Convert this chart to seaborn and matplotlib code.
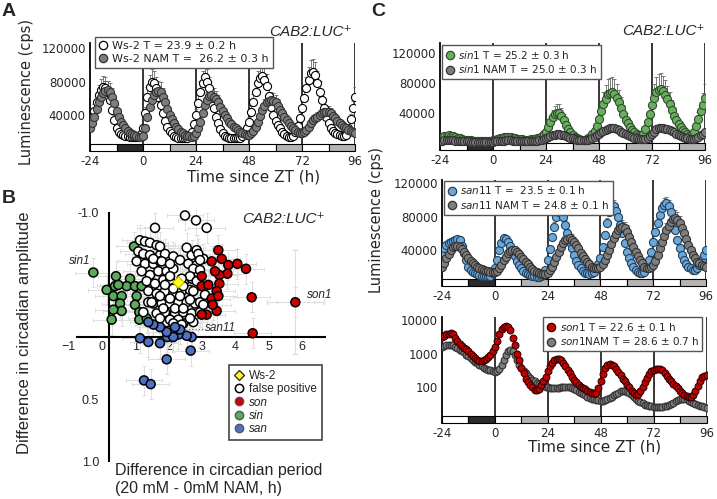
import numpy as np
import pandas as pd
import seaborn as sns
import matplotlib.pyplot as plt
import matplotlib.transforms as mtransforms
from matplotlib.patches import Rectangle
from matplotlib.lines import Line2D

sns.set_style('white')
plt.rcParams['font.family'] = ['DejaVu Sans']

# ---------------- data: luminescence traces, hourly from ZT -24 to 96 ----------------
time_h = np.arange(-24, 97, 1)
day_ticks = [-24, 0, 24, 48, 72, 96]
# 12 h light segments under each trace: L / D / L / subjective night ...
light_starts = [-24, -12, 0, 12, 24, 36, 48, 60, 72, 84]
light_schedule = ['white', '#2b2b2b', 'white', '#b4b4b4', 'white', '#b4b4b4',
                  'white', '#b4b4b4', 'white', '#b4b4b4']

ws2 = [28000, 36000, 45000, 55000, 64000, 70000, 73000, 72000, 68000, 58000, 46000, 34000,
       24000, 19500, 17000, 16000, 15000, 14500, 14000, 13500, 13500, 13500, 14000, 17000,
       25000, 42000, 62000, 74000, 80000, 78000, 72000, 62000, 52000, 42000, 33000, 26000,
       21000, 18000, 15500, 14000, 13000, 12500, 12000, 12000, 12500, 15000, 20000, 29000,
       40000, 54000, 68000, 78000, 85000, 80000, 72000, 60000, 48000, 38000, 30000, 23000,
       18000, 15500, 14000, 13000, 12500, 12000, 12000, 12500, 13000, 15000, 18000, 24000,
       32000, 43000, 55000, 67000, 78000, 84000, 87000, 82000, 75000, 63000, 50000, 40000,
       33000, 28000, 24000, 20000, 17000, 15000, 14000, 14000, 15000, 20000, 27000, 37000,
       48000, 60000, 72000, 82000, 90000, 91000, 88000, 78000, 68000, 58000, 48000, 38000,
       30000, 25000, 21000, 19000, 17000, 16000, 15000, 15000, 16000, 24000, 35000, 48000,
       62000]
ws2_nam = [25000, 31000, 38000, 47000, 55000, 61000, 66000, 69000, 70000, 67000, 62000, 54000,
           45000, 38000, 32000, 28000, 24000, 21000, 19000, 17500, 16000, 14500, 13500, 14000,
           15000, 25000, 38000, 49000, 58000, 64000, 68000, 69000, 68000, 62000, 55000, 47000,
           40000, 35000, 30000, 26000, 23000, 20000, 18000, 16500, 15000, 14500, 14000, 15500,
           18000, 24000, 32000, 42000, 52000, 58000, 63000, 63500, 62000, 59000, 55000, 50000,
           45000, 40000, 36000, 32000, 29000, 26000, 24000, 22000, 20000, 18500, 17000, 16500,
           16500, 18000, 21000, 26000, 32000, 39000, 46000, 51000, 55000, 57000, 58000, 57000,
           55000, 51000, 46000, 42000, 38000, 34000, 30000, 27000, 24000, 22000, 20000, 19000,
           18500, 19500, 22000, 26000, 31000, 34000, 36000, 38000, 40000, 42000, 43000, 44000,
           44000, 42000, 39000, 36000, 33000, 30000, 28000, 26000, 24000, 22500, 21000, 20000,
           19000]

sin1 = [6000, 7500, 9000, 9500, 10000, 9500, 9000, 8000, 7000, 6000, 5000, 4500,
        4000, 3700, 3500, 3200, 3000, 3000, 3000, 3000, 3000, 3000, 3000, 3200,
        3500, 4200, 5000, 6000, 7000, 8000, 8500, 8200, 7500, 6800, 6000, 5500,
        5000, 4700, 4500, 4500, 4500, 4700, 5000, 5500, 6000, 7200, 9000, 11500,
        15000, 21000, 28000, 34000, 38000, 40000, 40000, 36000, 30000, 24000, 19000, 14000,
        10000, 7500, 6000, 5000, 4500, 4300, 4500, 6000, 8000, 11500, 16000, 23000,
        32000, 42000, 52000, 59000, 65000, 67000, 68000, 65000, 60000, 54000, 47000, 39000,
        31000, 26000, 21000, 17000, 14000, 12000, 11000, 11000, 12000, 18000, 28000, 39000,
        50000, 60000, 68000, 71000, 72000, 69000, 64000, 58000, 52000, 44000, 36000, 30000,
        25000, 21000, 17000, 14000, 12000, 11000, 10000, 14000, 22000, 32000, 42000, 51000,
        60000]
sin1_nam = [3000, 3200, 3500, 3500, 3500, 3500, 3500, 3200, 3000, 3000, 3000, 2800,
            2500, 2200, 2000, 2000, 2000, 2000, 2000, 2000, 2000, 2000, 2000, 2000,
            2000, 2200, 2500, 2800, 3000, 3200, 3500, 3500, 3500, 3200, 3000, 3000,
            3000, 2800, 2500, 2500, 2500, 2500, 2500, 2700, 3000, 3500, 4000, 5000,
            6000, 7500, 9000, 10000, 11000, 11500, 11500, 11000, 10000, 9000, 8000, 7000,
            6000, 5200, 4500, 4200, 4000, 4000, 4000, 4500, 5000, 6500, 8000, 10000,
            12000, 14000, 16000, 17500, 19000, 19500, 20000, 19500, 18500, 17000, 15000, 13500,
            12000, 10500, 9000, 8000, 7000, 6200, 5500, 5200, 5000, 5800, 7000, 9500,
            12000, 15000, 18000, 19500, 20000, 20000, 19000, 18000, 17000, 15500, 14000, 12500,
            11000, 9500, 8000, 7000, 6000, 5500, 5000, 5300, 6000, 8000, 10000, 12500,
            15000]

san11 = [38000, 42000, 46000, 48000, 50000, 51000, 52000, 53000, 52000, 45000, 36000, 28000,
         20000, 16500, 14000, 12500, 11000, 10000, 9500, 9200, 9000, 9000, 9500, 12500,
         18000, 28000, 40000, 48000, 54000, 53000, 50000, 45000, 40000, 33000, 27000, 22000,
         18000, 15000, 13000, 11500, 10000, 9000, 8500, 8200, 8000, 8500, 10000, 16000,
         28000, 41000, 55000, 68000, 80000, 85000, 86000, 79000, 70000, 60000, 50000, 42000,
         34000, 27000, 22000, 18000, 15000, 13000, 12000, 11500, 12000, 14000, 18000, 23000,
         30000, 43000, 58000, 72000, 85000, 90000, 92000, 87000, 80000, 70000, 60000, 48000,
         38000, 30000, 24000, 19500, 16000, 13500, 12000, 12000, 14000, 20000, 28000, 38000,
         50000, 61000, 72000, 82000, 90000, 94000, 96000, 92000, 85000, 75000, 64000, 52000,
         42000, 34000, 28000, 23000, 20000, 18000, 16000, 16000, 18000, 22000, 28000, 34000,
         40000]
san11_nam = [20000, 25000, 30000, 35000, 40000, 43000, 45000, 45000, 44000, 41000, 38000, 34000,
             30000, 27000, 24000, 22000, 20000, 18500, 17000, 16000, 15000, 14500, 14000, 14000,
             14000, 15500, 18000, 22000, 28000, 32000, 36000, 38500, 40000, 39500, 38000, 35000,
             32000, 29000, 26000, 23000, 20000, 17500, 15000, 13500, 12000, 11500, 11000, 11500,
             13000, 16000, 20000, 26000, 32000, 38000, 44000, 48000, 52000, 53500, 54000, 52500,
             50000, 46000, 42000, 37000, 33000, 29000, 26000, 23000, 20000, 19000, 18000, 18500,
             20000, 23500, 28000, 34000, 40000, 47000, 54000, 59000, 64000, 66500, 68000, 66000,
             62000, 56000, 50000, 44000, 38000, 33000, 28000, 24000, 20000, 19000, 18000, 19500,
             22000, 27000, 34000, 42000, 50000, 57000, 64000, 69000, 74000, 76500, 78000, 76000,
             72000, 66000, 60000, 53000, 46000, 40000, 34000, 30000, 26000, 24000, 22000, 21000,
             20000]

son1 = [3200, 3500, 3800, 4000, 4200, 3800, 3000, 2500, 2000, 1700, 1500, 1350,
        1200, 1000, 850, 750, 650, 630, 620, 650, 700, 800, 950, 1200,
        1600, 2500, 4000, 5500, 6500, 6800, 6500, 5000, 3000, 1800, 1000, 650,
        380, 260, 180, 140, 120, 100, 85, 82, 90, 115, 150, 210,
        300, 420, 550, 640, 700, 700, 650, 540, 420, 330, 260, 210,
        170, 140, 120, 105, 95, 87, 80, 75, 70, 68, 70, 95,
        150, 250, 380, 450, 500, 480, 430, 360, 280, 230, 180, 150,
        120, 100, 80, 68, 60, 65, 80, 105, 140, 190, 250, 300,
        330, 350, 360, 350, 320, 270, 220, 180, 150, 130, 110, 95,
        80, 70, 60, 55, 50, 52, 60, 80, 110, 150, 200, 220,
        230]
son1_nam = [1600, 1700, 1800, 1900, 1900, 1800, 1600, 1450, 1300, 1200, 1100, 950,
            850, 750, 650, 580, 520, 470, 420, 390, 360, 340, 320, 300,
            280, 300, 350, 450, 650, 900, 1200, 1300, 1200, 900, 650, 480,
            380, 310, 260, 220, 190, 170, 150, 135, 125, 118, 110, 105,
            100, 97, 95, 95, 95, 97, 100, 103, 105, 103, 100, 95,
            90, 82, 75, 68, 62, 57, 52, 49, 46, 44, 42, 41,
            40, 40, 42, 45, 48, 53, 58, 64, 70, 76, 80, 78,
            75, 68, 60, 52, 45, 40, 36, 33, 30, 29, 28, 27,
            26, 25, 25, 25, 26, 27, 28, 30, 32, 35, 38, 41,
            44, 46, 46, 44, 40, 37, 34, 32, 30, 28, 27, 25,
            24]

# relative size of the (upper) error bars of each trace
err_ws2, err_ws2_nam = 0.18, 0.16
err_sin1, err_sin1_nam = 0.30, 0.10
err_san11, err_san11_nam = 0.08, 0.12
err_son1, err_son1_nam = 0.15, 0.06

# ---------------- data: panel B screen ----------------
white_x = [1.14, 1.29, 1.44, 1.64, 1.09, 1.24, 1.44, 1.74, 1.89, 1.04, 1.29, 1.54, 1.74, 1.19,
           1.44, 1.69, 1.94, 2.14, 1.34, 1.59, 1.84, 2.04, 2.49, 2.69, 1.39, 1.64, 1.89, 2.14,
           2.39, 2.64, 1.54, 1.79, 2.04, 2.29, 2.54, 2.79, 1.64, 1.89, 2.19, 2.44, 2.69, 1.94,
           2.19, 2.44, 2.69, 2.54, 2.84, 2.59, 2.84, 3.04, 2.94, 2.14, 2.34, 1.39, 1.24, 2.94,
           2.74, 1.74, 1.54, 1.79, 2.04, 2.89, 2.74, 2.94, 2.64, 2.84, 3.09, 2.74, 2.44, 2.04,
           1.89, 2.14, 1.74, 2.04, 2.34, 2.64, 3.04, 2.19, 2.44, 1.84, 1.74, 2.04, 2.29, 2.64,
           1.49, 2.39, 2.94, 2.49, 2.82, 3.14, 1.59, 2.14, 2.39]
white_y = [-0.78, -0.77, -0.76, -0.74, -0.69, -0.67, -0.66, -0.66, -0.67, -0.61, -0.59, -0.59,
           -0.61, -0.53, -0.50, -0.53, -0.53, -0.55, -0.45, -0.43, -0.46, -0.46, -0.46, -0.47,
           -0.37, -0.35, -0.37, -0.35, -0.37, -0.38, -0.27, -0.27, -0.27, -0.28, -0.28, -0.27,
           -0.19, -0.20, -0.19, -0.20, -0.19, -0.12, -0.12, -0.11, -0.66, -0.72, -0.70, -0.59,
           -0.58, -0.63, -0.28, -0.65, -0.62, -0.28, -0.20, -0.20, -0.12, -0.73, -0.63, -0.61,
           -0.59, -0.67, -0.55, -0.54, -0.49, -0.45, -0.34, -0.37, -0.41, -0.49, -0.42, -0.39,
           -0.33, -0.31, -0.33, -0.30, -0.26, -0.23, -0.23, -0.23, -0.15, -0.14, -0.14, -0.15,
           -0.28, -0.47, -0.62, -0.98, -0.94, -0.88, -0.88, -0.11, -0.10]
green_x = [-0.26, 0.96, 0.42, 0.39, 0.34, 0.29, 0.59, 0.54, 0.59, 0.84, 0.74, 0.99, 1.19, 1.04,
           0.99, 1.12, 1.12, 0.49, 0.14, 0.34, 1.34]
green_y = [-0.52, -0.73, -0.49, -0.41, -0.33, -0.14, -0.33, -0.27, -0.21, -0.47, -0.41, -0.41,
           -0.41, -0.33, -0.26, -0.20, -0.14, -0.42, -0.38, -0.22, -0.15]
blue_x = [1.14, 1.39, 1.74, 1.96, 1.94, 1.26, 1.46, 2.66, 2.69, 2.54, 2.29, 2.14, 1.94, 1.74,
          1.54, 1.39, 2.34, 2.19]
blue_y = [0.01, 0.04, 0.05, 0.00, 0.18, 0.35, 0.38, 0.11, 0.00, -0.01, -0.02, 0.00, -0.04,
          -0.08, -0.10, -0.12, -0.06, -0.08]
red_x = [3.49, 3.59, 3.79, 4.06, 4.32, 3.76, 3.52, 3.29, 2.99, 2.99, 3.19, 3.52, 3.44, 3.29,
         3.49, 3.44, 3.14, 4.49, 5.80, 4.52, 3.39, 3.32, 2.99]
red_y = [-0.70, -0.63, -0.58, -0.59, -0.55, -0.51, -0.50, -0.61, -0.49, -0.41, -0.42, -0.43,
         -0.37, -0.31, -0.33, -0.21, -0.18, -0.32, -0.28, -0.03, -0.53, -0.26, -0.18]
ws2_point = (2.29, -0.44)
son1_point = (5.80, -0.28)
son1_point_err = (0.85, 0.42)
screen_err = (0.55, 0.12)

# ---------------- figure ----------------
W, H = 717, 499
fig = plt.figure(figsize=(W / 100, H / 100), dpi=100)


def px_axes(left, top, right, bottom):
    return fig.add_axes([left / W, 1 - bottom / H, (right - left) / W, (bottom - top) / H])


grey_face, grey_edge = '#7d7d7d', '#333333'
strip_frac = 0.062


def time_axis(ax, ylim, yticks, ylabels, log=False):
    if log:
        ax.set_yscale('log')
    ax.set_xlim(-24, 96)
    ax.set_ylim(*ylim)
    ax.set_xticks(day_ticks)
    ax.set_xticklabels([str(t) for t in day_ticks])
    ax.set_yticks(yticks)
    ax.set_yticklabels(ylabels)
    ax.minorticks_off()
    ax.tick_params(length=0, labelsize=8.5, pad=3)
    for s in ['top', 'right', 'bottom']:
        ax.spines[s].set_visible(False)
    ax.spines['left'].set_linewidth(1.3)
    ax.spines['left'].set_color('black')
    trans = mtransforms.blended_transform_factory(ax.transData, ax.transAxes)
    for start, shade in zip(light_starts, light_schedule):
        ax.add_patch(Rectangle((start, 0), 12, strip_frac, transform=trans, facecolor=shade,
                               edgecolor='black', lw=0.8, zorder=2, clip_on=False))
    for x in day_ticks[1:]:
        ax.axvline(x, ymin=strip_frac, ymax=1, color='black', lw=1.1, zorder=1)


def trace(ax, vals, face, edge, frac, size=34):
    vals = np.asarray(vals, dtype=float)
    ax.errorbar(time_h, vals, yerr=[np.zeros_like(vals), vals * frac], fmt='none',
                ecolor='#666666', elinewidth=0.6, capsize=1.5, capthick=0.6, zorder=2.5)
    sns.scatterplot(x=time_h, y=vals, ax=ax, color=face, edgecolor=edge, linewidth=0.8,
                    s=size, zorder=3, legend=False)


def trace_legend(ax, labels, faces, edges, loc, anchor, fontsize=7.5):
    handles = [Line2D([], [], ls='', marker='o', markersize=6, markerfacecolor=f,
                      markeredgecolor=e, markeredgewidth=0.9) for f, e in zip(faces, edges)]
    leg = ax.legend(handles, labels, loc=loc, bbox_to_anchor=anchor, borderaxespad=0,
                    fontsize=fontsize, frameon=True, fancybox=False, framealpha=1,
                    edgecolor='#555555', handlelength=0.8, handletextpad=0.4,
                    borderpad=0.35, labelspacing=0.25)
    leg.get_frame().set_linewidth(1.0)
    leg.set_zorder(6)


lin_ticks = [40000, 80000, 120000]
lin_labels = ['40000', '80000', '120000']

# panel A
axA = px_axes(90, 43, 355, 151)
time_axis(axA, (-3000, 126000), lin_ticks, lin_labels)
trace(axA, ws2, 'white', 'black', err_ws2)
trace(axA, ws2_nam, grey_face, grey_edge, err_ws2_nam)
trace_legend(axA, ['Ws-2 T = 23.9 ± 0.2 h', 'Ws-2 NAM T =  26.2 ± 0.3 h'],
             ['white', grey_face], ['black', grey_edge], 'upper left', (0.019, 1.056), 8)

# panel C, top: sin1
axC1 = px_axes(440, 43, 705, 150)
time_axis(axC1, (-9300, 133000), lin_ticks, lin_labels)
trace(axC1, sin1, '#6aae62', '#2f4f2a', err_sin1)
trace(axC1, sin1_nam, grey_face, grey_edge, err_sin1_nam)
trace_legend(axC1, [r'$\it{sin1}$ T = 25.2 ± 0.3 h', r'$\it{sin1}$ NAM T = 25.0 ± 0.3 h'],
             ['#6aae62', grey_face], ['#2f4f2a', grey_edge], 'upper left', (0.008, 0.98))

# panel C, middle: san11
axC2 = px_axes(442, 180, 706, 286)
time_axis(axC2, (-3000, 123600), lin_ticks, lin_labels)
trace(axC2, san11, '#6aa8da', '#24405a', err_san11)
trace(axC2, san11_nam, grey_face, grey_edge, err_san11_nam)
trace_legend(axC2, [r'$\it{san11}$ T =  23.5 ± 0.1 h', r'$\it{san11}$ NAM T = 24.8 ± 0.1 h'],
             ['#6aa8da', grey_face], ['#24405a', grey_edge], 'upper left', (0.008, 0.993))

# panel C, bottom: son1 (log scale)
axC3 = px_axes(442, 317, 706.5, 423)
time_axis(axC3, (8.6, 12600), [100, 1000, 10000], ['100', '1000', '10000'], log=True)
trace(axC3, son1_nam, grey_face, grey_edge, err_son1_nam, size=24)
trace(axC3, son1, '#c40000', '#3a0000', err_son1, size=24)
trace_legend(axC3, [r'$\it{son1}$ T = 22.6 ± 0.1 h', r'$\it{son1}$NAM T = 28.6 ± 0.7 h'],
             ['#c40000', grey_face], ['#3a0000', grey_edge], 'upper right', (0.983, 1.0))

# panel B
axB = px_axes(67, 210, 332, 462)
groups = [('sin', green_x, green_y), ('false positive', white_x, white_y),
          ('san', blue_x, blue_y), ('son', red_x, red_y)]
b_colors = {'false positive': 'white', 'son': '#d00000', 'sin': '#5daa5d', 'san': '#4d72c5'}
b_df = pd.concat([pd.DataFrame({'period': gx, 'amplitude': gy, 'group': name})
                  for name, gx, gy in groups], ignore_index=True)
axB.errorbar(b_df['period'], b_df['amplitude'], xerr=screen_err[0], yerr=screen_err[1],
             fmt='none', ecolor='#dedede', elinewidth=0.7, capsize=1.5, capthick=0.7, zorder=1)
axB.errorbar([son1_point[0]], [son1_point[1]], xerr=son1_point_err[0], yerr=son1_point_err[1],
             fmt='none', ecolor='#dedede', elinewidth=0.8, capsize=2, zorder=1)
sns.scatterplot(data=b_df, x='period', y='amplitude', hue='group', palette=b_colors,
                s=42, edgecolor='black', linewidth=1.1, legend=False, ax=axB, zorder=3)
sns.scatterplot(x=[ws2_point[0]], y=[ws2_point[1]], marker='D', color='#ffff1a',
                edgecolor='#c9b800', linewidth=0.8, s=34, ax=axB, zorder=4, legend=False)
axB.set_xlabel('')
axB.set_ylabel('')
axB.set_xlim(-1.05, 6.9)
axB.set_ylim(1.008, -1.024)
axB.spines['left'].set_position(('data', 0.2))
axB.spines['left'].set_bounds(-1, 1)
axB.spines['bottom'].set_position(('data', 0))
axB.spines['bottom'].set_bounds(-0.75, 6.7)
for s in ['top', 'right']:
    axB.spines[s].set_visible(False)
for s in ['left', 'bottom']:
    axB.spines[s].set_linewidth(1.5)
    axB.spines[s].set_color('black')
axB.set_xticks(range(-1, 7))
axB.set_yticks([-1.0, -0.5, 0.5, 1.0])
axB.set_yticklabels(['-1.0', '', '0.5', '1.0'])
axB.tick_params(axis='x', length=0, pad=3)
axB.tick_params(axis='y', length=4, width=1.3, direction='out', pad=3)
for lab in axB.get_xticklabels() + axB.get_yticklabels():
    lab.set_family('Liberation Sans')
    lab.set_fontsize(9)

b_italic = dict(family='Liberation Sans', style='italic', fontsize=8.5)
axB.text(-0.36, -0.61, 'sin1', ha='right', va='center', **b_italic)
axB.text(6.16, -0.34, 'son1', ha='left', va='center', **b_italic)
axB.plot([2.49, 3.06], [-0.065, -0.065], ls=':', color='#777777', lw=0.9, zorder=2)
axB.text(3.09, -0.07, 'san11', ha='left', va='center', **b_italic)

b_handles = [
    Line2D([], [], ls='', marker='D', markersize=5, markerfacecolor='#ffff1a', markeredgecolor='#333333'),
    Line2D([], [], ls='', marker='o', markersize=6, markerfacecolor='white', markeredgecolor='black', markeredgewidth=1.1),
    Line2D([], [], ls='', marker='o', markersize=6, markerfacecolor=b_colors['son'], markeredgecolor='#555555'),
    Line2D([], [], ls='', marker='o', markersize=6, markerfacecolor=b_colors['sin'], markeredgecolor='#555555'),
    Line2D([], [], ls='', marker='o', markersize=6, markerfacecolor=b_colors['san'], markeredgecolor='#555555'),
]
legB = axB.legend(b_handles, ['Ws-2', 'false positive', 'son', 'sin', 'san'], loc='lower right',
                  bbox_to_anchor=(0.962, 0.087), borderaxespad=0, frameon=True, fancybox=False,
                  framealpha=1, edgecolor='#444444', handlelength=0.8, handletextpad=0.5,
                  borderpad=0.4, labelspacing=0.12, prop={'family': 'Liberation Sans', 'size': 8.5})
legB.get_frame().set_linewidth(1.2)
for t in legB.get_texts()[2:]:
    t.set_style('italic')

# labels and titles
title_kw = dict(family=['Liberation Sans', 'DejaVu Sans'], style='italic', fontsize=11,
                ha='right', va='center')
fig.text(352 / W, 1 - 32 / H, 'CAB2:LUC⁺', **title_kw)
fig.text(705 / W, 1 - 31 / H, 'CAB2:LUC⁺', **title_kw)
fig.text(325 / W, 1 - 219 / H, 'CAB2:LUC⁺', **title_kw)

letter_kw = dict(family='Liberation Sans', weight='bold', fontsize=14, ha='left', va='top')
fig.text(2 / W, 1 - 3 / H, 'A', **letter_kw)
fig.text(2 / W, 1 - 190 / H, 'B', **letter_kw)
fig.text(371 / W, 1 - 3 / H, 'C', **letter_kw)

fig.text(27 / W, 1 - 92 / H, 'Luminescence (cps)', rotation=90, fontsize=10.5, ha='center', va='center')
fig.text(254 / W, 1 - 177 / H, 'Time since ZT (h)', fontsize=11, ha='center', va='center')
fig.text(376 / W, 1 - 220 / H, 'Luminescence (cps)', rotation=90, fontsize=10.5, ha='center', va='center')
fig.text(595 / W, 1 - 447 / H, 'Time since ZT (h)', fontsize=11, ha='center', va='center')
fig.text(25 / W, 1 - 333 / H, 'Difference in circadian amplitude', rotation=90,
         family='Liberation Sans', fontsize=12, ha='center', va='center')
fig.text(115 / W, 1 - 480 / H, 'Difference in circadian period\n(20 mM - 0mM NAM, h)',
         family='Liberation Sans', fontsize=11.5, ha='left', va='center', linespacing=1.25)

fig.savefig('out.png', dpi=100, facecolor='white')
